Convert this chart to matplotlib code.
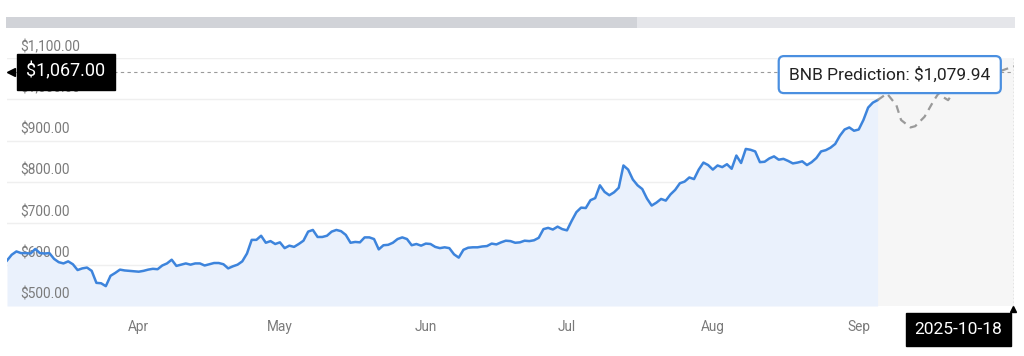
import numpy as np
import pandas as pd
import matplotlib.pyplot as plt
from matplotlib.patches import Rectangle
from matplotlib.transforms import ScaledTranslation

plt.rcParams['font.family'] = ['Roboto', 'DejaVu Sans']

# daily BNB price (USD) starting at START
START = '2025-03-04'
prices = [
    610, 624, 632, 628, 628, 627, 638, 628, 627, 628,
    614, 606, 603, 608, 601, 587, 591, 593, 585, 556,
    555, 548, 573, 580, 588, 586, 585, 584, 583, 585,
    588, 590, 589, 598, 603, 612, 597, 600, 603, 600,
    603, 603, 598, 601, 604, 604, 601, 591, 596, 600,
    608, 627, 660, 660, 670, 653, 657, 650, 654, 640,
    646, 643, 650, 658, 680, 684, 667, 667, 670, 680,
    684, 681, 672, 653, 655, 654, 666, 666, 662, 637,
    647, 648, 653, 662, 666, 662, 647, 650, 646, 651,
    650, 643, 640, 642, 640, 625, 617, 636, 641, 642,
    642, 644, 645, 651, 649, 654, 658, 657, 653, 654,
    658, 657, 659, 665, 686, 689, 685, 692, 686, 683,
    706, 727, 738, 737, 756, 761, 792, 776, 768, 775,
    786, 840, 830, 806, 792, 783, 760, 743, 750, 759,
    755, 770, 781, 797, 801, 811, 807, 830, 847, 841,
    830, 840, 836, 843, 832, 864, 846, 880, 878, 874,
    848, 849, 857, 862, 854, 856, 851, 845, 847, 850,
    841, 848, 858, 874, 877, 883, 892, 912, 927, 932,
    924, 927, 950, 980, 992, 998,
]

# forecast path (day offset from START, price)
pred_days = [185, 187, 189, 190, 192, 193, 195, 197, 198, 199, 200, 201, 204, 209, 214]
pred_prices = [998, 1014, 986, 950, 932, 935, 958, 998, 1015, 1005, 998, 1015, 1040, 1060, 1080]

current_price = 1067.00
pred_label = 'BNB Prediction: $1,079.94'
date_label = '2025-10-18'

y_ticks = [500, 600, 700, 800, 900, 1000, 1100]
months = ['Apr', 'May', 'Jun', 'Jul', 'Aug', 'Sep']
month_starts = ['2025-04-01', '2025-05-01', '2025-06-01', '2025-07-01', '2025-08-01', '2025-09-01']

days = np.arange(len(prices))
tick_days = [(pd.Timestamp(m) - pd.Timestamp(START)).days for m in month_starts]
x_end = pred_days[-1]

fig = plt.figure(figsize=(10.24, 3.56), dpi=100)
ax = fig.add_axes([7 / 1024, 1 - 306 / 356, 1007 / 1024, 248 / 356])

# top navigator bar
fig.add_artist(Rectangle((6 / 1024, 1 - 28 / 356), 1009 / 1024, 11 / 356,
                         transform=fig.transFigure, color='#e5e6ea', lw=0))
fig.add_artist(Rectangle((6 / 1024, 1 - 28 / 356), 631 / 1024, 11 / 356,
                         transform=fig.transFigure, color='#d1d3d8', lw=0))

ax.set_xlim(0, x_end)
ax.set_ylim(y_ticks[0], y_ticks[-1])

for v in y_ticks[1:]:
    ax.axhline(v, color='#efefef', lw=1, zorder=0)

ax.axvspan(days[-1], x_end, color='#f6f6f6', lw=0, zorder=0)
ax.fill_between(days, prices, y_ticks[0], color='#eaf1fc', lw=0, zorder=1)
ax.plot(days, prices, color='#3d84dc', lw=1.8, zorder=3)
ax.plot(pred_days, pred_prices, color='#9a9a9a', lw=1.6, dashes=(3.5, 2.5), zorder=3)

# y labels sit just above their gridlines
for v in y_ticks:
    ax.annotate(f'${v:,.2f}', xy=(0.013, v), xycoords=('axes fraction', 'data'),
                xytext=(0, 3), textcoords='offset points', ha='left', va='bottom',
                fontsize=9.8, color='#7a7a7a', zorder=2)

ax.set_xticks(tick_days)
ax.set_xticklabels(months)
ax.tick_params(axis='x', length=0, pad=10, labelsize=9.8, labelcolor='#7a7a7a')
ax.set_yticks([])
for s in ax.spines.values():
    s.set_visible(False)

# crosshair lines
ax.axhline(current_price, color='#9a9a9a', lw=0.8, dashes=(3, 3), zorder=4)
ax.axvline(x_end, color='#9a9a9a', lw=1, ls=':', zorder=4)

# current price flag
ax.annotate(f'${current_price:,.2f}', xy=(0, current_price), xycoords=('axes fraction', 'data'),
            xytext=(14, 0), textcoords='offset points', ha='left', va='center',
            fontsize=13, color='white', zorder=6,
            bbox=dict(boxstyle='square,pad=0.5', fc='black', ec='black'))
shift = ScaledTranslation(4 / 100, 0, fig.dpi_scale_trans)
ax.plot([0], [current_price], marker='<', ms=6, color='black', clip_on=False,
        transform=ax.get_yaxis_transform() + shift, zorder=6)

# prediction tooltip
ax.annotate(pred_label, xy=(x_end, pred_prices[-1]), xytext=(-17, -6),
            textcoords='offset points', ha='right', va='center',
            fontsize=12.5, color='#222222', zorder=7,
            bbox=dict(boxstyle='round,pad=0.6,rounding_size=0.3', fc='white', ec='#4a8fe0', lw=1.6))

# date flag under the axis
ax.annotate(date_label, xy=(x_end, y_ticks[0]), xytext=(-40, -17),
            textcoords='offset points', ha='center', va='center',
            fontsize=12.5, color='white', zorder=7, annotation_clip=False,
            bbox=dict(boxstyle='square,pad=0.5', fc='black', ec='black'))
down = ScaledTranslation(-1 / 100, -3 / 100, fig.dpi_scale_trans)
ax.plot([x_end], [y_ticks[0]], marker='^', ms=5, color='black', clip_on=False,
        transform=ax.transData + down, zorder=7)

fig.savefig('out.png', dpi=100)
